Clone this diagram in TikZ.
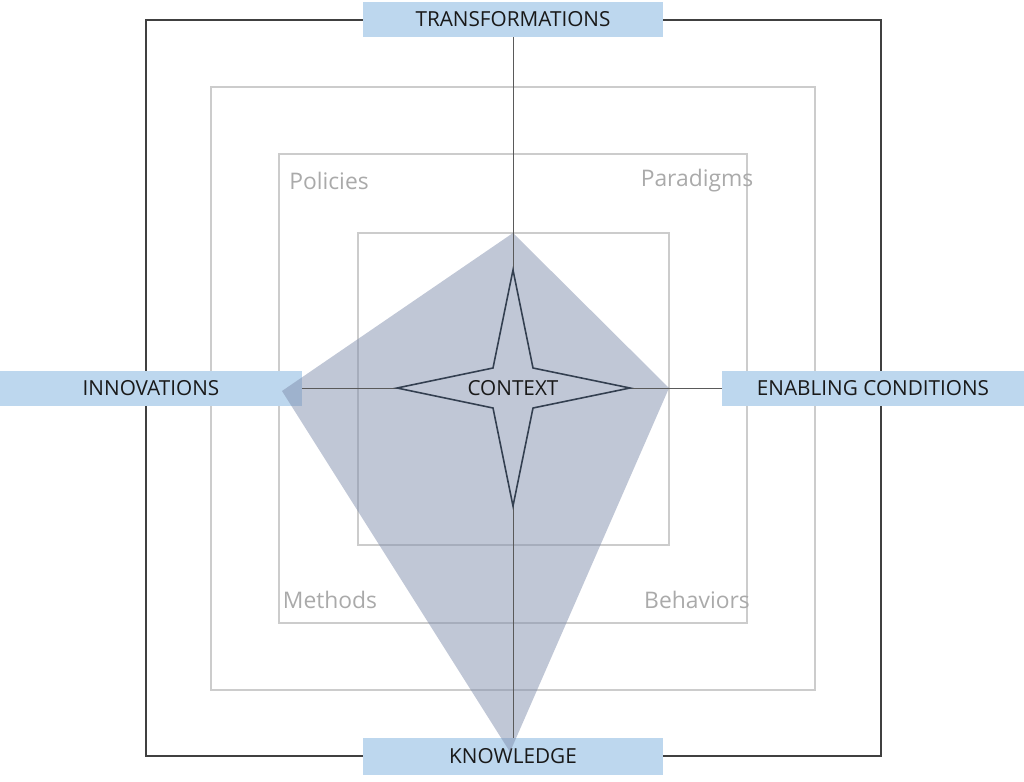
\documentclass[tikz,border=0pt]{standalone}
\usepackage{fontspec}
\setmainfont{Open Sans}
\usetikzlibrary{positioning}
\definecolor{boxblue}{RGB}{189,215,238}
\definecolor{kite}{RGB}{129,143,173}
\definecolor{kitelight}{RGB}{192,199,214}
\definecolor{framegray}{RGB}{204,204,204}
\definecolor{labelgray}{RGB}{170,170,170}
\definecolor{axisline}{RGB}{90,90,90}
\definecolor{starline}{RGB}{51,63,80}
\begin{document}
\begin{tikzpicture}[x=0.02cm,y=-0.02cm,
  axisbox/.style={fill=boxblue, inner sep=0pt, minimum height=0.7cm, text=black!90, font=\fontsize{11.8}{13}\selectfont},
  corner/.style={text=labelgray, font=\fontsize{13}{15}\selectfont}]
\useasboundingbox (0,0) rectangle (1024,781);
% frames
\path[draw=black!75,line width=0.9pt] (146,20) rectangle (881,756);
\path[draw=framegray,line width=0.8pt] (211,87) rectangle (815,690);
\path[draw=framegray,line width=0.8pt] (279,154) rectangle (747,623);
\path[draw=framegray,line width=0.8pt] (358,233) rectangle (669,545);

% axis boxes
\node[axisbox, minimum width=6cm] (trans) at (513,19.5) {TRANSFORMATIONS};
\node[axisbox, minimum width=6cm, minimum height=0.74cm] (know) at (513,756.5) {KNOWLEDGE};
\node[axisbox, minimum width=6.04cm] (innov) at (151,388.5) {INNOVATIONS};
\node[axisbox, minimum width=6.04cm] (enab) at (873,388.5) {ENABLING CONDITIONS};

% kite
\coordinate (kt) at (513,233);
\coordinate (kr) at (669,388);
\coordinate (kb) at (510,752);
\coordinate (kl) at (282,391);
\path[fill=kite,fill opacity=0.5] (kt) -- (kr) -- (kb) -- (kl) -- cycle;

% axes
\path[draw=axisline,line width=0.5pt] (trans.south) -- (know.north);
\path[draw=axisline,line width=0.5pt] (innov.east) -- (enab.west);

% star
\path[draw=starline,fill=kitelight,line width=0.9pt]
  (513,270) -- (533,368) -- (630,388) -- (533,408) -- (513,506)
  -- (493,408) -- (397,388) -- (493,368) -- cycle;
\node[text=black!90, font=\fontsize{11.8}{13}\selectfont] (ctx) at (513,388) {CONTEXT};

% corner labels
\node[corner] (pol) at (329,181) {Policies};
\node[corner] (par) at (697,181) {Paradigms};
\node[corner] (met) at (330,600) {Methods};
\node[corner] (beh) at (697,600) {Behaviors};
\end{tikzpicture}
\end{document}
